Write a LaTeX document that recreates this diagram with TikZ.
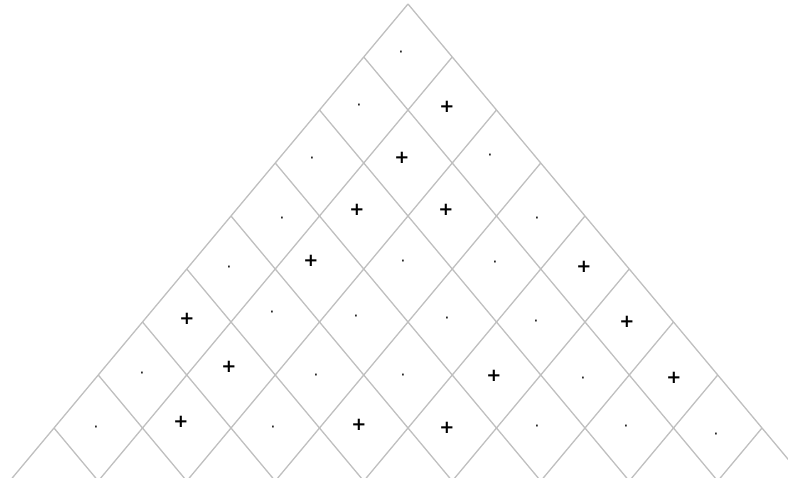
\documentclass[tikz,border=0pt]{standalone}
\usepackage{fontspec}
\newfontfamily\symfont{DejaVu Sans}
\tikzset{
  gridline/.style={draw=gray!50, line width=1.3pt},
  plussym/.style={font=\symfont\bfseries\fontsize{18}{18}\selectfont, inner sep=0pt, text=black},
  dotsym/.style={font=\symfont\bfseries\fontsize{10}{10}\selectfont, inner sep=0pt, text=black!85}
}
\begin{document}
\begin{tikzpicture}[x=1pt,y=-1pt]
\useasboundingbox (0,0) rectangle (788,478);
\begin{scope}
\clip (0,0) rectangle (788,478);
% lines of constant i (down-right direction)
\foreach \i in {0,...,8}{
  \draw[gridline] ({408-\i*44.25},{4+\i*53}) -- ({408+(10-\i)*44.25},{4+(\i+10)*53});
}
% lines of constant j (down-left direction)
\foreach \j in {0,...,8}{
  \draw[gridline] ({408+\j*44.25},{4+\j*53}) -- ({408+(\j-10)*44.25},{4+(\j+10)*53});
}
\end{scope}
% plus cells
\foreach \r/\c/\x/\y in {2/2/447/107, 3/2/402/158, 4/2/357/210, 4/3/446/210,
  5/2/311/261, 5/5/584/267, 6/1/187/319, 6/6/627/322, 7/2/229/367, 7/5/494/376,
  7/7/674/378, 8/2/181/422, 8/4/359/425, 8/5/447/428}{
  \node[plussym] (cell-\r-\c) at (\x,\y) {+};
}
% dot cells
\foreach \r/\c/\x/\y in {1/1/401/53, 2/1/359/106, 3/1/312/159, 3/3/490/156,
  4/1/282/219, 4/4/537/219, 5/1/229/268, 5/3/403/262, 5/4/495/263,
  6/2/272/313, 6/3/356/317, 6/4/447/319, 6/5/536/322,
  7/1/142/374, 7/3/316/376, 7/4/403/376, 7/6/583/379,
  8/1/96/428, 8/3/273/428, 8/6/537/427, 8/7/626/427, 8/8/716/435}{
  \node[dotsym] (cell-\r-\c) at (\x,\y) {·};
}
\end{tikzpicture}
\end{document}
